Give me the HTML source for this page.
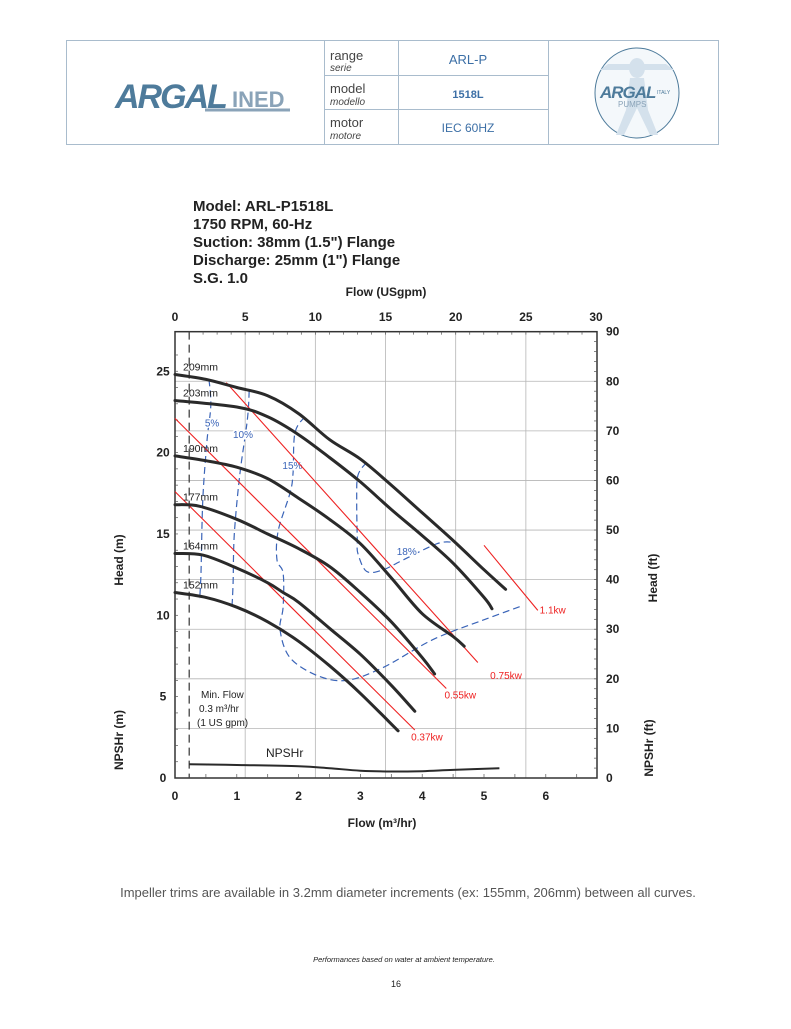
<!DOCTYPE html>
<html><head><meta charset="utf-8"><style>
body{margin:0;background:#fff;width:791px;height:1024px;overflow:hidden;font-family:"Liberation Sans",sans-serif;}
svg text{font-family:"Liberation Sans",sans-serif;}
</style></head><body>
<svg id="page" width="791" height="1024" viewBox="0 0 791 1024" xmlns="http://www.w3.org/2000/svg">
<g stroke="#a9bccd" stroke-width="1" fill="none">
<rect x="66.5" y="40.5" width="652" height="104"/>
<line x1="324.5" y1="40" x2="324.5" y2="145"/>
<line x1="398.5" y1="40" x2="398.5" y2="145"/>
<line x1="548.5" y1="40" x2="548.5" y2="145"/>
<line x1="324" y1="75.5" x2="548" y2="75.5"/>
<line x1="324" y1="109.5" x2="548" y2="109.5"/>
</g>
<g>
<text x="115" y="108" font-size="34" font-weight="bold" font-style="italic" fill="#4e7b9b" letter-spacing="-2">ARGAL</text>
<text x="232" y="107" font-size="22" font-weight="bold" fill="#8aa3b8">INED</text>
<line x1="205" y1="110" x2="290" y2="110" stroke="#8aa3b8" stroke-width="3"/>
</g>
<g fill="#444">
<text x="330" y="60" font-size="13">range</text><text x="330" y="71" font-size="10" font-style="italic">serie</text>
<text x="330" y="93" font-size="13">model</text><text x="330" y="105" font-size="10" font-style="italic">modello</text>
<text x="330" y="127" font-size="13">motor</text><text x="330" y="139" font-size="10" font-style="italic">motore</text>
</g>
<g fill="#3c6fa6" text-anchor="middle">
<text x="468" y="64" font-size="13">ARL-P</text>
<text x="468" y="98" font-size="11" font-weight="bold">1518L</text>
<text x="468" y="132" font-size="12">IEC 60HZ</text>
</g>
<g>
<ellipse cx="637" cy="93" rx="42" ry="45" fill="#f4f8fb" stroke="#4e7b9b" stroke-width="1"/>
<ellipse cx="637" cy="68" rx="8" ry="10" fill="#d4e1ec"/>
<path d="M600 70 L674 70 L666 64 L608 64 Z M630 78 L644 78 L648 110 L658 135 L650 135 L637 108 L624 135 L616 135 L626 110 Z" fill="#d4e1ec"/>
<text x="600" y="98" font-size="17" font-weight="bold" font-style="italic" fill="#4e7b9b" letter-spacing="-1">ARGAL</text>
<text x="618" y="107" font-size="8" fill="#8aa3b8">PUMPS</text>
<text x="657" y="94" font-size="5" fill="#4e7b9b">ITALY</text>
</g>
<g font-size="15" font-weight="bold" fill="#222">
<text x="193" y="211">Model: ARL-P1518L</text>
<text x="193" y="229">1750 RPM, 60-Hz</text>
<text x="193" y="247">Suction: 38mm (1.5") Flange</text>
<text x="193" y="265">Discharge: 25mm (1") Flange</text>
<text x="193" y="283">S.G. 1.0</text>
</g>
<g id="grid"></g>
<g id="axes"></g>
<g id="marks"></g>
<g font-weight="bold" fill="#222" font-size="12">
<text x="386" y="296" text-anchor="middle">Flow (USgpm)</text>
<text x="382" y="827" text-anchor="middle">Flow (m³/hr)</text>
<text transform="translate(123,560) rotate(-90)" text-anchor="middle">Head (m)</text>
<text transform="translate(123,740) rotate(-90)" text-anchor="middle">NPSHr (m)</text>
<text transform="translate(657,578) rotate(-90)" text-anchor="middle">Head (ft)</text>
<text transform="translate(653,748) rotate(-90)" text-anchor="middle">NPSHr (ft)</text>
</g>
<g font-size="10" fill="#222">
<text x="201" y="698">Min. Flow</text>
<text x="199" y="712">0.3 m³/hr</text>
<text x="197" y="726">(1 US gpm)</text>
<text x="266" y="757" font-size="12">NPSHr</text>
</g>
<g text-anchor="middle">
<text x="408" y="897" font-size="13" fill="#555">Impeller trims are available in 3.2mm diameter increments (ex: 155mm, 206mm) between all curves.</text>
<text x="404" y="962" font-size="7.5" font-style="italic" fill="#222">Performances based on water at ambient temperature.</text>
<text x="396" y="987" font-size="9" fill="#222">16</text>
</g>
</svg>
<script>
const flowTicks=[0,1,2,3,4,5,6];
const headTicks=[0,5,10,15,20,25];
const gpmTicks=[0,5,10,15,20,25,30];
const ftTicks=[0,10,20,30,40,50,60,70,80,90];
const trimLabels=["209mm","203mm","190mm","177mm","164mm","152mm"];
const trim209=[[0,24.8],[0.5,24.5],[1,24.0],[1.5,23.5],[2,22.4],[2.5,20.8],[3,19.6],[3.5,18.0],[4,16.3],[4.5,14.6],[5,12.8],[5.35,11.6]];
const trim203=[[0,23.2],[1,22.8],[1.5,22.2],[2,21.1],[2.5,19.7],[3,18.2],[3.5,16.5],[4,14.9],[4.5,13.2],[5,11.1],[5.13,10.4]];
const trim190=[[0,19.8],[0.5,19.5],[1,19.1],[1.5,18.4],[2,17.2],[2.5,15.9],[3,14.4],[3.5,12.3],[4,10.1],[4.5,8.7],[4.68,8.1]];
const trim177=[[0,16.8],[0.4,16.7],[1,15.9],[1.5,15.0],[2,14.1],[2.5,13.0],[3,11.4],[3.5,9.6],[4,7.4],[4.2,6.4]];
const trim164=[[0,13.8],[0.45,13.7],[1,12.9],[1.5,12.0],[1.75,11.4],[2,10.8],[2.5,9.2],[3,7.6],[3.5,5.7],[3.88,4.1]];
const trim152=[[0,11.4],[0.5,11.1],[1,10.5],[1.5,9.6],[2,8.4],[2.5,6.9],[3,5.2],[3.61,2.9]];
const npshr=[[0.23,0.85],[1,0.8],[2,0.72],[2.5,0.6],[3,0.45],[3.5,0.4],[4,0.42],[4.5,0.5],[5.25,0.6]];
const powerLabels=["0.37kw","0.55kw","0.75kw","1.1kw"];
const power037=[[0,17.6],[3.88,2.95]];
const power055=[[0,22.1],[4.39,5.5]];
const power075=[[0.83,24.3],[4.9,7.1]];
const power110=[[5.0,14.3],[5.87,10.3]];
const powerLabelPos=[[3.82,2.3],[4.36,4.9],[5.1,6.1],[5.9,10.1]];
const effLabels=["5%","10%","15%","18%"];
const eff05=[[0.55,24.5],[0.58,22.9],[0.52,20.8],[0.45,17.1],[0.42,12.6],[0.40,11.0]];
const eff10=[[1.2,23.8],[1.17,22.0],[1.05,18.7],[0.96,15.0],[0.94,12.0],[0.92,10.4]];
const eff15=[[2.1,22.2],[1.94,21.2],[1.91,18.7],[1.86,17.5],[1.67,15.2],[1.65,13.4],[1.75,12.6],[1.75,10.5],[1.7,9.1],[1.86,7.4],[2.3,6.3],[2.78,6.0],[3.37,6.8],[4.17,8.5],[4.98,9.7],[5.63,10.6]];
const eff18=[[3.1,19.4],[2.96,18.6],[2.94,17.1],[2.95,14.6],[2.96,13.8],[3.1,12.7],[3.37,12.8],[3.69,13.4],[4.24,14.4],[4.5,14.5]];
const effLabelPos=[[0.6,21.6],[1.1,20.9],[1.9,19.0],[3.75,13.7]];
const minFlow=0.23;

const X0=175,X1=597,Y0=778,PXM=61.8,PXH=16.27;
const xs=v=>X0+v*PXM, ys=v=>Y0-v*PXH;
const xg=g=>xs(g*0.2271), yf=f=>ys(f*0.3048);
const NS="http://www.w3.org/2000/svg";
function mk(parent,tag,attrs){const e=document.createElementNS(NS,tag);for(const k in attrs)e.setAttribute(k,attrs[k]);document.getElementById(parent).appendChild(e);return e;}
function smooth(a){const P=a.map(p=>[xs(p[0]),ys(p[1])]);let d="M"+P[0][0].toFixed(1)+","+P[0][1].toFixed(1);
for(let i=0;i<P.length-1;i++){const p0=P[i-1]||P[i],p1=P[i],p2=P[i+1],p3=P[i+2]||p2;
const c1=[p1[0]+(p2[0]-p0[0])/6,p1[1]+(p2[1]-p0[1])/6],c2=[p2[0]-(p3[0]-p1[0])/6,p2[1]-(p3[1]-p1[1])/6];
d+=" C"+c1.map(v=>v.toFixed(1))+" "+c2.map(v=>v.toFixed(1))+" "+p2.map(v=>v.toFixed(1));}return d;}

gpmTicks.forEach(g=>{if(g>0&&g<30){const l=mk('grid','line',{x1:xg(g),x2:xg(g),y1:yf(90),y2:Y0,stroke:'#b5b5b5','stroke-width':0.8});

}});
ftTicks.forEach(f=>{if(f>0&&f<90){const l=mk('grid','line',{x1:X0,x2:X1,y1:yf(f),y2:yf(f),stroke:'#b5b5b5','stroke-width':0.8});

}});
const fr=mk('axes','rect',{x:X0,y:yf(90),width:X1-X0,height:Y0-yf(90),fill:'none',stroke:'#333','stroke-width':1.5});


for(let g=1;g<30;g++){mk('axes','line',{x1:xg(g),x2:xg(g),y1:yf(90),y2:yf(90)+3,stroke:'#555','stroke-width':0.7});}
for(let m=0.5;m<6.8;m+=0.5){mk('axes','line',{x1:xs(m),x2:xs(m),y1:Y0,y2:Y0-4,stroke:'#555','stroke-width':0.7});}
for(let h=1;h<27;h++){mk('axes','line',{x1:X0,x2:X0+3,y1:ys(h),y2:ys(h),stroke:'#555','stroke-width':0.7});}
for(let f=2;f<90;f+=2){mk('axes','line',{x1:X1,x2:X1-3,y1:yf(f),y2:yf(f),stroke:'#555','stroke-width':0.7});}
function lbl(x,y,t,anchor,name){const e=mk('axes','text',{x:x,y:y,'text-anchor':anchor,'font-size':12,'font-weight':'bold',fill:'#222'});e.textContent=t;

}
flowTicks.forEach(v=>lbl(xs(v),800,v,'middle','x-tick-m3hr'));
headTicks.forEach(v=>lbl(163,ys(v)+4,v,'middle','y-tick-head-m'));
gpmTicks.forEach(v=>lbl(xg(v),321,v,'middle','x-tick-gpm'));
ftTicks.forEach(v=>lbl(606,yf(v)+4,v,'start','y-tick-head-ft'));
const mf=mk('marks','line',{x1:xs(minFlow),x2:xs(minFlow),y1:yf(90),y2:Y0,stroke:'#444','stroke-width':1.3,'stroke-dasharray':'8,5'});


[eff05,eff10,eff15,eff18].forEach((a,i)=>{const p=mk('marks','path',{d:smooth(a),fill:'none',stroke:'#3a64b8','stroke-width':1.2,'stroke-dasharray':'7,4'});


const t=mk('marks','text',{x:xs(effLabelPos[i][0]),y:ys(effLabelPos[i][1]),'text-anchor':'middle','font-size':10,fill:'#3a64b8',stroke:'#fff','stroke-width':3,'paint-order':'stroke'});t.textContent=effLabels[i];

});
[power037,power055,power075,power110].forEach((a,i)=>{const p=mk('marks','path',{d:smooth(a),fill:'none',stroke:'#ee2222','stroke-width':1.1});


const t=mk('marks','text',{x:xs(powerLabelPos[i][0]),y:ys(powerLabelPos[i][1]),'font-size':10,fill:'#ee2222'});t.textContent=powerLabels[i];

});
[trim209,trim203,trim190,trim177,trim164,trim152].forEach((a,i)=>{const p=mk('marks','path',{d:smooth(a),fill:'none',stroke:'#2a2a2a','stroke-width':3,'stroke-linejoin':'round','stroke-linecap':'round'});


const t=mk('marks','text',{x:183,y:ys(a[0][1])-4,'font-size':10.5,fill:'#222'});t.textContent=trimLabels[i];

});
const np=mk('marks','path',{d:smooth(npshr),fill:'none',stroke:'#2a2a2a','stroke-width':2});


</script>
</body></html>
